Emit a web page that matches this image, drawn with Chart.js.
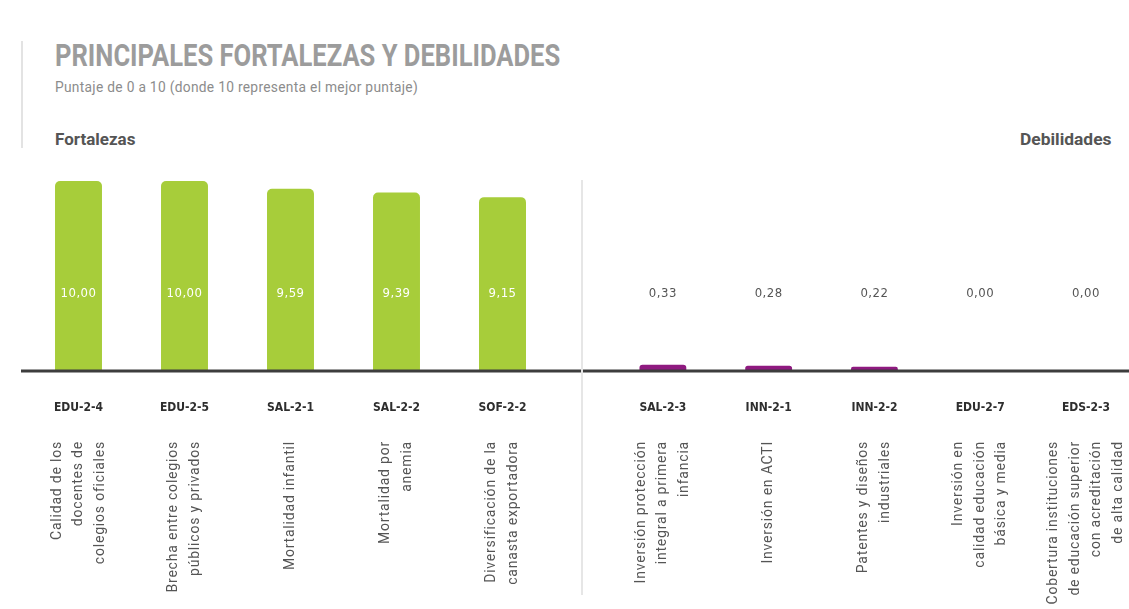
<!DOCTYPE html>
<html>
<head>
<meta charset="utf-8">
<script src="https://cdn.jsdelivr.net/npm/chart.js@4.4.1/dist/chart.umd.min.js"></script>
<style>
  html, body { margin: 0; width: 1129px; height: 609px; overflow: hidden; background: #fff; font-family: Roboto, sans-serif; }
  .fit { position: absolute; white-space: nowrap; transform-origin: 0 0; }
  #title { left: 55px; top: 36px; font: 700 32px Roboto, sans-serif; color: #9c9c9c; }
  #subtitle { left: 55px; top: 79px; font: 400 14px Roboto, sans-serif; color: #8c8c8c; letter-spacing: 0.3px; }
  #strengths { left: 55px; top: 129px; font: 700 17px Roboto, sans-serif; color: #555; }
  #weaknesses { left: 1020px; top: 129px; font: 700 17px Roboto, sans-serif; color: #555; }
  .accent { position: absolute; left: 21px; top: 41px; width: 2px; height: 107px; background: #e3e3e3; }
  .divider { position: absolute; left: 581px; top: 180px; width: 2px; height: 415px; background: #e6e6e6; }
  .pane { position: absolute; top: 170px; height: 439px; }
  #leftPane { left: 0; width: 581px; }
  #rightPane { left: 583px; width: 557px; }
</style>
</head>
<body>
<div class="accent"></div>
<div id="title" class="fit" data-w="505">PRINCIPALES FORTALEZAS Y DEBILIDADES</div>
<div id="subtitle" class="fit" data-w="363">Puntaje de 0 a 10 (donde 10 representa el mejor puntaje)</div>
<div id="strengths" class="fit" data-w="80">Fortalezas</div>
<div id="weaknesses" class="fit" data-w="91">Debilidades</div>
<div class="divider"></div>
<div class="pane" id="leftPane"><canvas id="leftChart"></canvas></div>
<div class="pane" id="rightPane"><canvas id="rightChart"></canvas></div>

<script>
// strengths (left) and weaknesses (right)
const strengthCodes = ['EDU-2-4', 'EDU-2-5', 'SAL-2-1', 'SAL-2-2', 'SOF-2-2'];
const strengthValues = [10.00, 10.00, 9.59, 9.39, 9.15];
const strengthNames = [
  ['Calidad de los', 'docentes de', 'colegios oficiales'],
  ['Brecha entre colegios', 'públicos y privados'],
  ['Mortalidad infantil'],
  ['Mortalidad por', 'anemia'],
  ['Diversificación de la', 'canasta exportadora']
];

const weaknessCodes = ['SAL-2-3', 'INN-2-1', 'INN-2-2', 'EDU-2-7', 'EDS-2-3'];
const weaknessValues = [0.33, 0.28, 0.22, 0.00, 0.00];
const weaknessNames = [
  ['Inversión protección', 'integral a primera', 'infancia'],
  ['Inversión en ACTI'],
  ['Patentes y diseños', 'industriales'],
  ['Inversión en', 'calidad educación', 'básica y media'],
  ['Cobertura instituciones', 'de educación superior', 'con acreditación', 'de alta calidad']
];

const GREEN = '#a7cd3a';
const PURPLE = '#8f1a80';

// squeeze header texts horizontally to the condensed look
document.querySelectorAll('.fit').forEach(el => {
  const w = +el.dataset.w;
  el.style.transform = `scaleX(${w / el.offsetWidth})`;
});

const fmt = v => v.toFixed(2).replace('.', ',');

// dark axis line under the bars
const baseline = {
  id: 'baseline',
  afterDatasetsDraw(chart, args, opts) {
    const {ctx, chartArea} = chart;
    ctx.save();
    ctx.strokeStyle = '#3d3d3d';
    ctx.lineWidth = 3;
    ctx.beginPath();
    ctx.moveTo(opts.from, chartArea.bottom);
    ctx.lineTo(chart.width, chartArea.bottom);
    ctx.stroke();
    ctx.restore();
  }
};

// value labels, all on one row
const valueLabels = {
  id: 'valueLabels',
  afterDatasetsDraw(chart, args, opts) {
    const {ctx, chartArea} = chart;
    const meta = chart.getDatasetMeta(0);
    const data = chart.data.datasets[0].data;
    ctx.save();
    ctx.font = '13px "DejaVu Sans Condensed", Roboto, sans-serif';
    ctx.letterSpacing = '0.5px';
    ctx.fillStyle = opts.color;
    ctx.textAlign = 'center';
    ctx.textBaseline = 'middle';
    meta.data.forEach((bar, i) => {
      ctx.fillText(fmt(data[i]), bar.x, chartArea.bottom - 77);
    });
    ctx.restore();
  }
};

// rotated descriptions under the codes
const descriptions = {
  id: 'descriptions',
  afterDraw(chart, args, opts) {
    const {ctx} = chart;
    const x = chart.scales.x;
    ctx.save();
    ctx.font = '14px Roboto, sans-serif';
    ctx.letterSpacing = '0.8px';
    ctx.fillStyle = '#555';
    ctx.textAlign = 'right';
    ctx.textBaseline = 'middle';
    opts.lines.forEach((lines, i) => {
      const cx = x.getPixelForTick(i);
      lines.forEach((t, j) => {
        const lx = cx + (j - (lines.length - 1) / 2) * 21.5;
        ctx.save();
        ctx.translate(lx, x.top + 70);
        ctx.rotate(-Math.PI / 2);
        ctx.fillText(t, 0, 0);
        ctx.restore();
      });
    });
    ctx.restore();
  }
};

function makeChart(id, codes, values, names, color, labelColor, padLeft, padRight, lineFrom) {
  return new Chart(document.getElementById(id), {
    type: 'bar',
    data: {
      labels: codes,
      datasets: [{
        data: values,
        backgroundColor: color,
        borderRadius: 5,
        barPercentage: 0.443,
        categoryPercentage: 1
      }]
    },
    options: {
      responsive: true,
      maintainAspectRatio: false,
      animation: false,
      layout: {padding: {top: 11, left: padLeft, right: padRight, bottom: 0}},
      plugins: {
        legend: {display: false},
        tooltip: {enabled: false},
        baseline: {from: lineFrom},
        valueLabels: {color: labelColor},
        descriptions: {lines: names}
      },
      scales: {
        y: {display: false, min: 0, max: 10},
        x: {
          offset: true,
          grid: {display: false, drawTicks: false},
          border: {display: false},
          ticks: {
            color: '#2e2e2e',
            padding: 30,
            maxRotation: 0,
            autoSkip: false,
            font: {family: '"DejaVu Sans Condensed", Roboto, sans-serif', weight: 'bold', size: 12}
          },
          afterFit(scale) { scale.height = 238; }
        }
      }
    },
    plugins: [baseline, valueLabels, descriptions]
  });
}

makeChart('leftChart', strengthCodes, strengthValues, strengthNames, GREEN, '#ffffff', 25.5, 25.5, 21);
makeChart('rightChart', weaknessCodes, weaknessValues, weaknessNames, PURPLE, '#555555', 27, 0, 0);
</script>
</body>
</html>
